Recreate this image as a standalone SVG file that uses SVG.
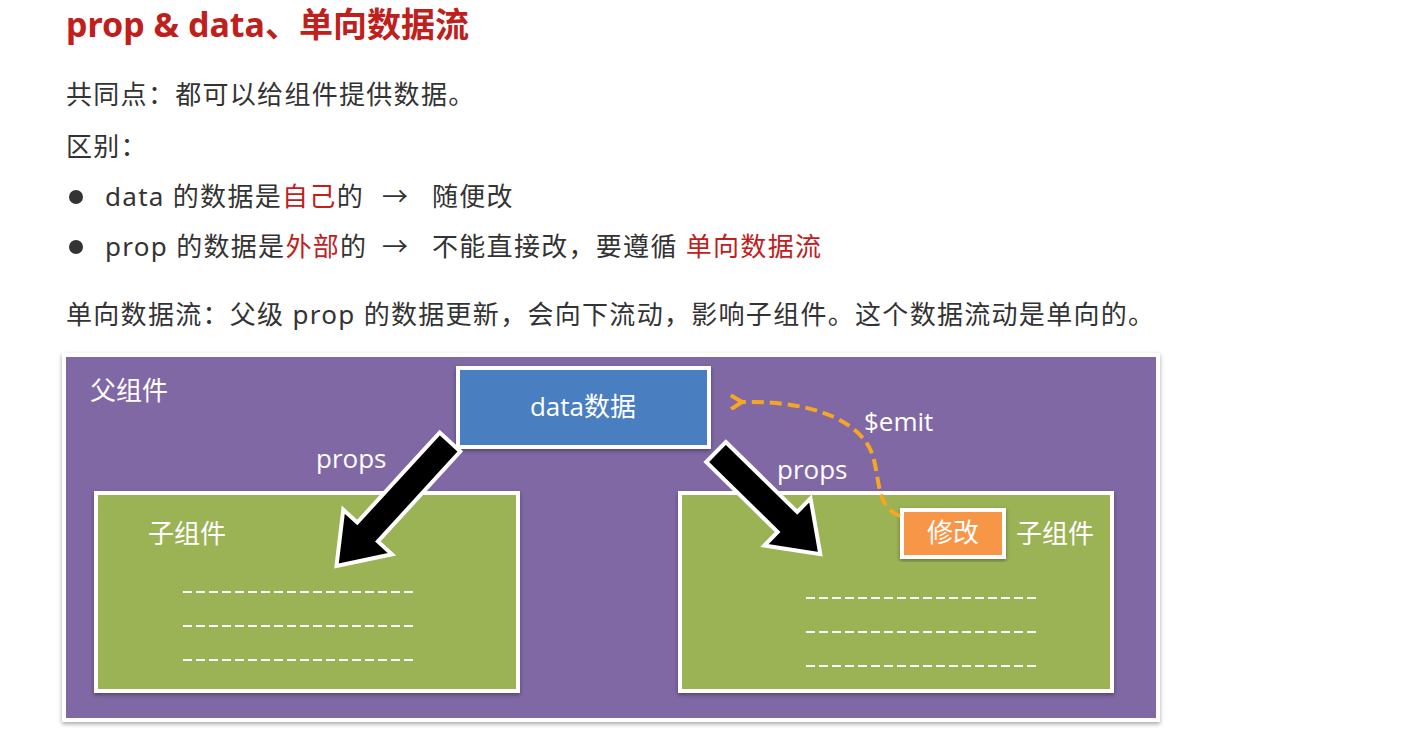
<svg xmlns="http://www.w3.org/2000/svg" width="1408" height="746" viewBox="0 0 1408 746">
<defs>
<style>
.t{font-family:"Noto Sans","Noto Sans CJK SC",sans-serif;font-size:26px;letter-spacing:1.3px;fill:#333}
.r{fill:#c0201b}
.w{font-family:"Open Sans","Noto Sans CJK SC",sans-serif;fill:#fff;font-size:26px}
.box{stroke:#fff;stroke-width:4}
.dl{stroke:#fff;stroke-width:2;stroke-dasharray:9 4}
.arr{fill:#000;stroke:#fff;stroke-width:4;stroke-linejoin:miter}
</style>
<marker id="oh" markerWidth="14" markerHeight="16" refX="3" refY="8" orient="auto" markerUnits="userSpaceOnUse"><path d="M12,1 L1,8 L12,15" fill="none" stroke="#f5a623" stroke-width="4"/></marker>
<filter id="sh"><feDropShadow dx="0" dy="2" stdDeviation="2" flood-opacity="0.35"/></filter>
</defs>
<rect width="1408" height="746" fill="#fff"/>
<text x="66" y="37" font-family="'Noto Sans','Noto Sans CJK SC',sans-serif" font-size="34" font-weight="bold" fill="#c0201b">prop &amp; data、单向数据流</text>
<text class="t" x="66" y="104">共同点：都可以给组件提供数据。</text>
<text class="t" x="66" y="156">区别：</text>
<circle cx="76" cy="197" r="7" fill="#333"/>
<text class="t" y="206"><tspan x="105">data 的数据是<tspan class="r">自己</tspan>的</tspan><tspan x="382">→</tspan><tspan x="432">随便改</tspan></text>
<circle cx="76" cy="247" r="7" fill="#333"/>
<text class="t" y="256"><tspan x="105">prop 的数据是<tspan class="r">外部</tspan>的</tspan><tspan x="382">→</tspan><tspan x="432">不能直接改，要遵循 <tspan class="r">单向数据流</tspan></tspan></text>
<text class="t" x="66" y="324">单向数据流：父级 prop 的数据更新，会向下流动，影响子组件。这个数据流动是单向的。</text>
<g id="parent"><rect x="64" y="355" width="1094" height="365" fill="#8068a5" class="box" filter="url(#sh)"/><text class="w" x="90" y="400">父组件</text></g>
<g id="child1"><rect x="96" y="493" width="422" height="198" fill="#9bb255" class="box" filter="url(#sh)"/><text class="w" x="148" y="543">子组件</text>
<line class="dl" x1="183" y1="592" x2="413" y2="592"/><line class="dl" x1="183" y1="626" x2="413" y2="626"/><line class="dl" x1="183" y1="660" x2="413" y2="660"/></g>
<g id="child2"><rect x="680" y="493" width="432" height="198" fill="#9bb255" class="box" filter="url(#sh)"/><text class="w" x="1016" y="543">子组件</text>
<line class="dl" x1="806" y1="598" x2="1036" y2="598"/><line class="dl" x1="806" y1="632" x2="1036" y2="632"/><line class="dl" x1="806" y1="666" x2="1036" y2="666"/></g>
<g id="data"><rect x="458" y="368" width="251" height="79" fill="#4a7ec0" class="box" filter="url(#sh)"/><text class="w" x="583" y="416" text-anchor="middle">data数据</text></g>
<g id="modify"><rect x="902" y="510" width="102" height="47" fill="#f79646" class="box" filter="url(#sh)"/><text class="w" x="953" y="542" text-anchor="middle">修改</text></g>
<g id="connectors">
<polygon class="arr" transform="translate(450,442) rotate(132.5)" points="0,-14 122,-14 122,-33 168,0 122,33 122,14 0,14"/>
<polygon class="arr" transform="translate(716,452) rotate(44.4)" points="0,-14 100,-14 100,-33 146,0 100,33 100,14 0,14"/>
<path d="M900,516 C878,508 880,485 874,460 C866,425 820,400 740,402" fill="none" stroke="#f5a623" stroke-width="4" stroke-dasharray="12 6" marker-end="url(#oh)"/>
<text class="w" x="316" y="468">props</text>
<text class="w" x="777" y="479">props</text>
<text class="w" x="864" y="431">$emit</text>
</g>
</svg>
